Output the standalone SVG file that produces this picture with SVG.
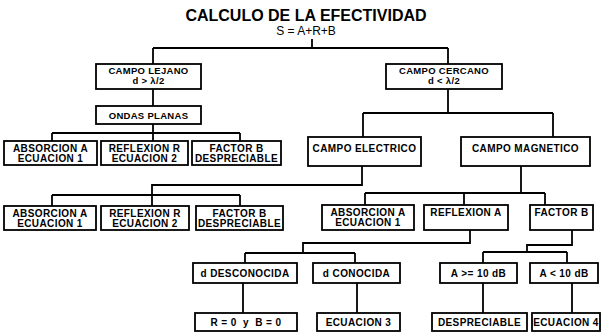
<svg xmlns="http://www.w3.org/2000/svg" width="605" height="334" viewBox="0 0 605 334">
<style>
.box{fill:#fff;stroke:#000;stroke-width:1.8}
.t{font-family:"Liberation Sans",Arial,sans-serif;font-weight:bold;font-size:10px;letter-spacing:0.4px;text-anchor:middle;fill:#000}
.s{font-size:9.5px;letter-spacing:0.3px}
.c{fill:none;stroke:#000;stroke-width:1.8}
.title{font-family:"Liberation Sans",Arial,sans-serif;font-weight:bold;font-size:16px;text-anchor:middle}
.sub{font-family:"Liberation Sans",Arial,sans-serif;font-size:12px;text-anchor:middle}
</style>
<rect width="605" height="334" fill="#fff"/>
<g id="title">
<text class="title" x="306" y="21">CALCULO DE LA EFECTIVIDAD</text>
<text class="sub" x="306" y="35">S = A+R+B</text>
</g>
<g id="connectors">
<path class="c" d="M312,39V48M153,48H448M153,48V64M448,48V64"/>
<path class="c" d="M153,89V106M153,124V133M52,133H240M52,133V141M153,133V141M240,133V141"/>
<path class="c" d="M448,89V113M363,113H553M363,113V137M553,113V137"/>
<path class="c" d="M362,166V185H152V206M52,195H240M52,195V206M240,195V206"/>
<path class="c" d="M521,166V193M365,193H545M365,193V205M464,193V205M545,193V205"/>
<path class="c" d="M470,230V243H303V253M245,253H355M245,253V263M355,253V263M243,283V313M357,283V313"/>
<path class="c" d="M572,230V245H527V252M483,252H567M483,252V263M567,252V263M483,283V313M572,283V313"/>
</g>
<g id="campo-lejano"><rect class="box" x="96" y="64" width="105" height="25"/><text class="t s" x="148.5" y="74">CAMPO LEJANO</text><text class="t s" x="148.5" y="84">d &gt; λ/2</text></g>
<g id="ondas-planas"><rect class="box" x="96" y="106" width="105" height="18"/><text class="t s" x="148.5" y="119">ONDAS PLANAS</text></g>
<g id="absorcion1"><rect class="box" x="4" y="141" width="93" height="24"/><text class="t" x="50.5" y="151.5">ABSORCION A</text><text class="t" x="50.5" y="161.5">ECUACION 1</text></g>
<g id="reflexion1"><rect class="box" x="101" y="141" width="87" height="24"/><text class="t" x="144.5" y="151.5">REFLEXION R</text><text class="t" x="144.5" y="161.5">ECUACION 2</text></g>
<g id="factor1"><rect class="box" x="192" y="141" width="89" height="24"/><text class="t" x="236.5" y="151.5">FACTOR B</text><text class="t" x="236.5" y="161.5">DESPRECIABLE</text></g>
<g id="campo-cercano"><rect class="box" x="386" y="64" width="116" height="25"/><text class="t s" x="444" y="74">CAMPO CERCANO</text><text class="t s" x="444" y="84">d &lt; λ/2</text></g>
<g id="campo-electrico"><rect class="box" x="308" y="137" width="113" height="29"/><text class="t" x="364.5" y="152">CAMPO ELECTRICO</text></g>
<g id="campo-magnetico"><rect class="box" x="461" y="137" width="129" height="29"/><text class="t" x="525.5" y="152">CAMPO MAGNETICO</text></g>
<g id="absorcion2"><rect class="box" x="4" y="206" width="92" height="24"/><text class="t" x="50" y="216.5">ABSORCION A</text><text class="t" x="50" y="226.5">ECUACION 1</text></g>
<g id="reflexion2"><rect class="box" x="101" y="206" width="88" height="24"/><text class="t" x="145" y="216.5">REFLEXION R</text><text class="t" x="145" y="226.5">ECUACION 2</text></g>
<g id="factor2"><rect class="box" x="196" y="206" width="87" height="24"/><text class="t" x="239.5" y="216.5">FACTOR B</text><text class="t" x="239.5" y="226.5">DESPRECIABLE</text></g>
<g id="absorcion3"><rect class="box" x="322" y="205" width="92" height="25"/><text class="t" x="368" y="215.5">ABSORCION A</text><text class="t" x="368" y="225.5">ECUACION 1</text></g>
<g id="reflexion-a"><rect class="box" x="424" y="205" width="84" height="25"/><text class="t" x="466" y="215.5">REFLEXION A</text></g>
<g id="factor3"><rect class="box" x="530" y="205" width="63" height="25"/><text class="t" x="561.5" y="215.5">FACTOR B</text></g>
<g id="d-desconocida"><rect class="box" x="193" y="263" width="104" height="20"/><text class="t" x="245" y="276.5">d DESCONOCIDA</text></g>
<g id="d-conocida"><rect class="box" x="313" y="263" width="87" height="20"/><text class="t" x="356.5" y="276.5">d CONOCIDA</text></g>
<g id="r0b0"><rect class="box" x="195" y="313" width="102" height="18"/><text class="t" x="246" y="326" xml:space="preserve">R = 0  y  B = 0</text></g>
<g id="ecuacion3"><rect class="box" x="317" y="313" width="83" height="18"/><text class="t" x="358.5" y="326">ECUACION 3</text></g>
<g id="a-ge-10"><rect class="box" x="440" y="263" width="77" height="20"/><text class="t" x="478.5" y="276.5">A &gt;= 10 dB</text></g>
<g id="a-lt-10"><rect class="box" x="530" y="263" width="68" height="20"/><text class="t" x="564" y="276.5">A &lt; 10 dB</text></g>
<g id="despreciable"><rect class="box" x="432" y="313" width="95" height="18"/><text class="t" x="479.5" y="326">DESPRECIABLE</text></g>
<g id="ecuacion4"><rect class="box" x="532" y="313" width="68" height="18"/><text class="t" x="566" y="326">ECUACION 4</text></g>
</svg>
